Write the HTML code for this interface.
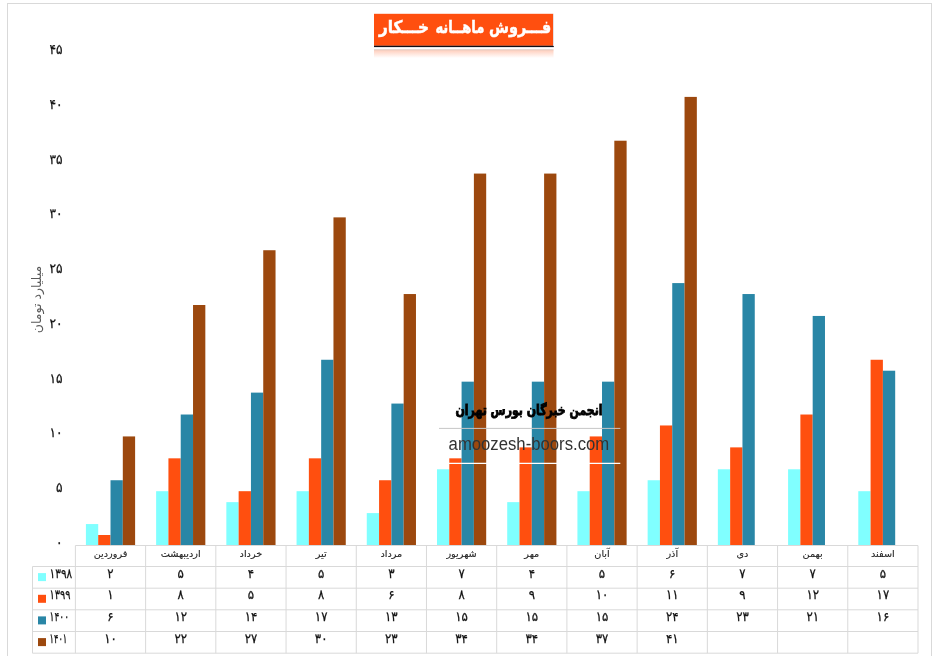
<!DOCTYPE html>
<html lang="fa">
<head>
<meta charset="utf-8">
<title>فروش ماهانه خکار</title>
<style>html,body{margin:0;padding:0;background:#fff}body{width:936px;height:656px;overflow:hidden}svg{display:block}</style>
</head>
<body>
<svg width="936" height="656" viewBox="0 0 936 656">
<defs><linearGradient id="refl" x1="0" y1="0" x2="0" y2="1"><stop offset="0" stop-color="#FF4F0F" stop-opacity="0.30"/><stop offset="1" stop-color="#FF4F0F" stop-opacity="0"/></linearGradient></defs>
<rect x="0" y="0" width="936" height="656" fill="#fff"/>
<rect x="7.5" y="3.5" width="924" height="670" fill="none" stroke="#d9d9d9" stroke-width="1"/>
<g>
<rect x="85.91" y="524.05" width="12.30" height="21.91" fill="#80FFFF"/>
<rect x="98.21" y="535.00" width="12.30" height="10.95" fill="#FF4F0F"/>
<rect x="110.51" y="480.24" width="12.30" height="65.72" fill="#2986A6"/>
<rect x="122.81" y="436.43" width="12.30" height="109.53" fill="#9C480E"/>
<rect x="156.12" y="491.19" width="12.30" height="54.76" fill="#80FFFF"/>
<rect x="168.43" y="458.33" width="12.30" height="87.62" fill="#FF4F0F"/>
<rect x="180.72" y="414.52" width="12.30" height="131.43" fill="#2986A6"/>
<rect x="193.03" y="305.00" width="12.30" height="240.96" fill="#9C480E"/>
<rect x="226.34" y="502.14" width="12.30" height="43.81" fill="#80FFFF"/>
<rect x="238.64" y="491.19" width="12.30" height="54.76" fill="#FF4F0F"/>
<rect x="250.94" y="392.62" width="12.30" height="153.34" fill="#2986A6"/>
<rect x="263.24" y="250.23" width="12.30" height="295.72" fill="#9C480E"/>
<rect x="296.56" y="491.19" width="12.30" height="54.76" fill="#80FFFF"/>
<rect x="308.86" y="458.33" width="12.30" height="87.62" fill="#FF4F0F"/>
<rect x="321.16" y="359.76" width="12.30" height="186.19" fill="#2986A6"/>
<rect x="333.46" y="217.38" width="12.30" height="328.58" fill="#9C480E"/>
<rect x="366.77" y="513.09" width="12.30" height="32.86" fill="#80FFFF"/>
<rect x="379.07" y="480.24" width="12.30" height="65.72" fill="#FF4F0F"/>
<rect x="391.38" y="403.57" width="12.30" height="142.38" fill="#2986A6"/>
<rect x="403.67" y="294.04" width="12.30" height="251.91" fill="#9C480E"/>
<rect x="436.99" y="469.28" width="12.30" height="76.67" fill="#80FFFF"/>
<rect x="449.29" y="458.33" width="12.30" height="87.62" fill="#FF4F0F"/>
<rect x="461.59" y="381.66" width="12.30" height="164.29" fill="#2986A6"/>
<rect x="473.89" y="173.57" width="12.30" height="372.38" fill="#9C480E"/>
<rect x="507.21" y="502.14" width="12.30" height="43.81" fill="#80FFFF"/>
<rect x="519.51" y="447.38" width="12.30" height="98.57" fill="#FF4F0F"/>
<rect x="531.81" y="381.66" width="12.30" height="164.29" fill="#2986A6"/>
<rect x="544.11" y="173.57" width="12.30" height="372.38" fill="#9C480E"/>
<rect x="577.42" y="491.19" width="12.30" height="54.76" fill="#80FFFF"/>
<rect x="589.72" y="436.43" width="12.30" height="109.53" fill="#FF4F0F"/>
<rect x="602.02" y="381.66" width="12.30" height="164.29" fill="#2986A6"/>
<rect x="614.32" y="140.71" width="12.30" height="405.24" fill="#9C480E"/>
<rect x="647.64" y="480.24" width="12.30" height="65.72" fill="#80FFFF"/>
<rect x="659.94" y="425.47" width="12.30" height="120.48" fill="#FF4F0F"/>
<rect x="672.24" y="283.09" width="12.30" height="262.86" fill="#2986A6"/>
<rect x="684.54" y="96.90" width="12.30" height="449.05" fill="#9C480E"/>
<rect x="717.86" y="469.28" width="12.30" height="76.67" fill="#80FFFF"/>
<rect x="730.16" y="447.38" width="12.30" height="98.57" fill="#FF4F0F"/>
<rect x="742.46" y="294.04" width="12.30" height="251.91" fill="#2986A6"/>
<rect x="788.08" y="469.28" width="12.30" height="76.67" fill="#80FFFF"/>
<rect x="800.38" y="414.52" width="12.30" height="131.43" fill="#FF4F0F"/>
<rect x="812.68" y="315.95" width="12.30" height="230.00" fill="#2986A6"/>
<rect x="858.29" y="491.19" width="12.30" height="54.76" fill="#80FFFF"/>
<rect x="870.59" y="359.76" width="12.30" height="186.19" fill="#FF4F0F"/>
<rect x="882.89" y="370.71" width="12.30" height="175.24" fill="#2986A6"/>
</g>
<g stroke="#d9d9d9" stroke-width="1" fill="none">
<line x1="75.4" y1="545.5" x2="918.0" y2="545.5"/>
<line x1="32.5" y1="566.5" x2="918.0" y2="566.5"/>
<line x1="32.5" y1="588.2" x2="918.0" y2="588.2"/>
<line x1="32.5" y1="609.8" x2="918.0" y2="609.8"/>
<line x1="32.5" y1="631.5" x2="918.0" y2="631.5"/>
<line x1="32.5" y1="653.2" x2="918.0" y2="653.2"/>
<line x1="32.5" y1="566.5" x2="32.5" y2="653.2"/>
<line x1="75.40" y1="545.5" x2="75.40" y2="653.2"/>
<line x1="145.62" y1="545.5" x2="145.62" y2="653.2"/>
<line x1="215.83" y1="545.5" x2="215.83" y2="653.2"/>
<line x1="286.05" y1="545.5" x2="286.05" y2="653.2"/>
<line x1="356.27" y1="545.5" x2="356.27" y2="653.2"/>
<line x1="426.48" y1="545.5" x2="426.48" y2="653.2"/>
<line x1="496.70" y1="545.5" x2="496.70" y2="653.2"/>
<line x1="566.92" y1="545.5" x2="566.92" y2="653.2"/>
<line x1="637.13" y1="545.5" x2="637.13" y2="653.2"/>
<line x1="707.35" y1="545.5" x2="707.35" y2="653.2"/>
<line x1="777.57" y1="545.5" x2="777.57" y2="653.2"/>
<line x1="847.78" y1="545.5" x2="847.78" y2="653.2"/>
<line x1="918.00" y1="545.5" x2="918.00" y2="653.2"/>
</g>
<g font-family="'DejaVu Sans Condensed', 'DejaVu Sans', sans-serif" font-size="13.5" fill="#111" stroke="#111" stroke-width="0.25" text-anchor="end" direction="ltr">
<text x="62.6" y="546.9">۰</text>
<text x="62.6" y="492.1">۵</text>
<text x="62.6" y="437.3">۱۰</text>
<text x="62.6" y="382.6">۱۵</text>
<text x="62.6" y="327.8">۲۰</text>
<text x="62.6" y="273.1">۲۵</text>
<text x="62.6" y="218.3">۳۰</text>
<text x="62.6" y="163.5">۳۵</text>
<text x="62.6" y="108.8">۴۰</text>
<text x="62.6" y="54.0">۴۵</text>
</g>
<text transform="translate(40.9,299.5) rotate(-90)" font-family="'DejaVu Sans', sans-serif" font-size="12.5" fill="#595959" text-anchor="middle" direction="rtl">میلیارد تومان</text>
<g font-family="'DejaVu Sans', sans-serif" font-size="9.7" fill="#262626" stroke="#262626" stroke-width="0.12" text-anchor="middle">
<text x="110.51" y="556.7" direction="rtl">فروردین</text>
<text x="180.73" y="556.7" direction="rtl">اردیبهشت</text>
<text x="250.94" y="556.7" direction="rtl">خرداد</text>
<text x="321.16" y="556.7" direction="rtl">تیر</text>
<text x="391.38" y="556.7" direction="rtl">مرداد</text>
<text x="461.59" y="556.7" direction="rtl">شهریور</text>
<text x="531.81" y="556.7" direction="rtl">مهر</text>
<text x="602.02" y="556.7" direction="rtl">آبان</text>
<text x="672.24" y="556.7" direction="rtl">آذر</text>
<text x="742.46" y="556.7" direction="rtl">دی</text>
<text x="812.67" y="556.7" direction="rtl">بهمن</text>
<text x="882.89" y="556.7" direction="rtl">اسفند</text>
</g>
<g font-family="'DejaVu Sans Condensed', 'DejaVu Sans', sans-serif" font-size="13" fill="#111" stroke="#111" stroke-width="0.25">
<rect x="38" y="573.1" width="8" height="8" stroke="none" fill="#80FFFF"/>
<text x="49.6" y="577.7" direction="ltr" textLength="22.6" lengthAdjust="spacingAndGlyphs">۱۳۹۸</text>
<text x="110.51" y="577.7" text-anchor="middle" direction="ltr">۲</text>
<text x="180.73" y="577.7" text-anchor="middle" direction="ltr">۵</text>
<text x="250.94" y="577.7" text-anchor="middle" direction="ltr">۴</text>
<text x="321.16" y="577.7" text-anchor="middle" direction="ltr">۵</text>
<text x="391.38" y="577.7" text-anchor="middle" direction="ltr">۳</text>
<text x="461.59" y="577.7" text-anchor="middle" direction="ltr">۷</text>
<text x="531.81" y="577.7" text-anchor="middle" direction="ltr">۴</text>
<text x="602.02" y="577.7" text-anchor="middle" direction="ltr">۵</text>
<text x="672.24" y="577.7" text-anchor="middle" direction="ltr">۶</text>
<text x="742.46" y="577.7" text-anchor="middle" direction="ltr">۷</text>
<text x="812.67" y="577.7" text-anchor="middle" direction="ltr">۷</text>
<text x="882.89" y="577.7" text-anchor="middle" direction="ltr">۵</text>
<rect x="38" y="594.8" width="8" height="8" stroke="none" fill="#FF4F0F"/>
<text x="49.6" y="599.4" direction="ltr" textLength="21" lengthAdjust="spacingAndGlyphs">۱۳۹۹</text>
<text x="110.51" y="599.4" text-anchor="middle" direction="ltr">۱</text>
<text x="180.73" y="599.4" text-anchor="middle" direction="ltr">۸</text>
<text x="250.94" y="599.4" text-anchor="middle" direction="ltr">۵</text>
<text x="321.16" y="599.4" text-anchor="middle" direction="ltr">۸</text>
<text x="391.38" y="599.4" text-anchor="middle" direction="ltr">۶</text>
<text x="461.59" y="599.4" text-anchor="middle" direction="ltr">۸</text>
<text x="531.81" y="599.4" text-anchor="middle" direction="ltr">۹</text>
<text x="602.02" y="599.4" text-anchor="middle" direction="ltr">۱۰</text>
<text x="672.24" y="599.4" text-anchor="middle" direction="ltr">۱۱</text>
<text x="742.46" y="599.4" text-anchor="middle" direction="ltr">۹</text>
<text x="812.67" y="599.4" text-anchor="middle" direction="ltr">۱۲</text>
<text x="882.89" y="599.4" text-anchor="middle" direction="ltr">۱۷</text>
<rect x="38" y="616.4" width="8" height="8" stroke="none" fill="#2986A6"/>
<text x="49.6" y="621.0" direction="ltr" textLength="19.4" lengthAdjust="spacingAndGlyphs">۱۴۰۰</text>
<text x="110.51" y="621.0" text-anchor="middle" direction="ltr">۶</text>
<text x="180.73" y="621.0" text-anchor="middle" direction="ltr">۱۲</text>
<text x="250.94" y="621.0" text-anchor="middle" direction="ltr">۱۴</text>
<text x="321.16" y="621.0" text-anchor="middle" direction="ltr">۱۷</text>
<text x="391.38" y="621.0" text-anchor="middle" direction="ltr">۱۳</text>
<text x="461.59" y="621.0" text-anchor="middle" direction="ltr">۱۵</text>
<text x="531.81" y="621.0" text-anchor="middle" direction="ltr">۱۵</text>
<text x="602.02" y="621.0" text-anchor="middle" direction="ltr">۱۵</text>
<text x="672.24" y="621.0" text-anchor="middle" direction="ltr">۲۴</text>
<text x="742.46" y="621.0" text-anchor="middle" direction="ltr">۲۳</text>
<text x="812.67" y="621.0" text-anchor="middle" direction="ltr">۲۱</text>
<text x="882.89" y="621.0" text-anchor="middle" direction="ltr">۱۶</text>
<rect x="38" y="638.1" width="8" height="8" stroke="none" fill="#9C480E"/>
<text x="49.6" y="642.7" direction="ltr" textLength="17.7" lengthAdjust="spacingAndGlyphs">۱۴۰۱</text>
<text x="110.51" y="642.7" text-anchor="middle" direction="ltr">۱۰</text>
<text x="180.73" y="642.7" text-anchor="middle" direction="ltr">۲۲</text>
<text x="250.94" y="642.7" text-anchor="middle" direction="ltr">۲۷</text>
<text x="321.16" y="642.7" text-anchor="middle" direction="ltr">۳۰</text>
<text x="391.38" y="642.7" text-anchor="middle" direction="ltr">۲۳</text>
<text x="461.59" y="642.7" text-anchor="middle" direction="ltr">۳۴</text>
<text x="531.81" y="642.7" text-anchor="middle" direction="ltr">۳۴</text>
<text x="602.02" y="642.7" text-anchor="middle" direction="ltr">۳۷</text>
<text x="672.24" y="642.7" text-anchor="middle" direction="ltr">۴۱</text>
</g>
<line x1="439" y1="428.4" x2="620.3" y2="428.4" stroke="#c6c6c6" stroke-width="1"/><line x1="439" y1="463.3" x2="620.3" y2="463.3" stroke="#ffffff" stroke-width="1.3"/>
<text x="602.5" y="414.5" font-family="'DejaVu Sans Condensed', 'DejaVu Sans', sans-serif" font-weight="bold" font-size="14" fill="#000" stroke="#000" stroke-width="0.8" direction="rtl" textLength="147" lengthAdjust="spacingAndGlyphs">انجمن خبرگان بورس تهران</text>
<text x="448.6" y="449.8" font-family="'Liberation Sans', sans-serif" font-size="18" fill="#333" textLength="160.6" lengthAdjust="spacingAndGlyphs">amoozesh-boors.com</text>
<rect x="374" y="49.5" width="179.5" height="8.5" fill="url(#refl)"/>
<rect x="374" y="49.3" width="179.5" height="1" fill="#ccc" opacity="0.7"/>
<rect x="374" y="13.8" width="179.3" height="32" fill="#FF4F0F"/>
<rect x="374" y="45.7" width="179.8" height="1.4" fill="#101018"/>
<rect x="553.2" y="14" width="0.8" height="32" fill="#e4e4ec"/>
<text x="551.2" y="32.5" font-family="'DejaVu Sans Condensed', 'DejaVu Sans', sans-serif" font-weight="bold" font-size="17.5" fill="#fff" stroke="#fff" stroke-width="0.45" direction="rtl" lengthAdjust="spacingAndGlyphs" textLength="62.2">فـــروش</text>
<text x="484.4" y="32.5" font-family="'DejaVu Sans Condensed', 'DejaVu Sans', sans-serif" font-weight="bold" font-size="17.5" fill="#fff" stroke="#fff" stroke-width="0.45" direction="rtl" lengthAdjust="spacingAndGlyphs" textLength="49">ماهــانه</text>
<text x="429" y="32.5" font-family="'DejaVu Sans Condensed', 'DejaVu Sans', sans-serif" font-weight="bold" font-size="17.5" fill="#fff" stroke="#fff" stroke-width="0.45" direction="rtl" lengthAdjust="spacingAndGlyphs" textLength="50">خـــکار</text>
</svg>
</body>
</html>
